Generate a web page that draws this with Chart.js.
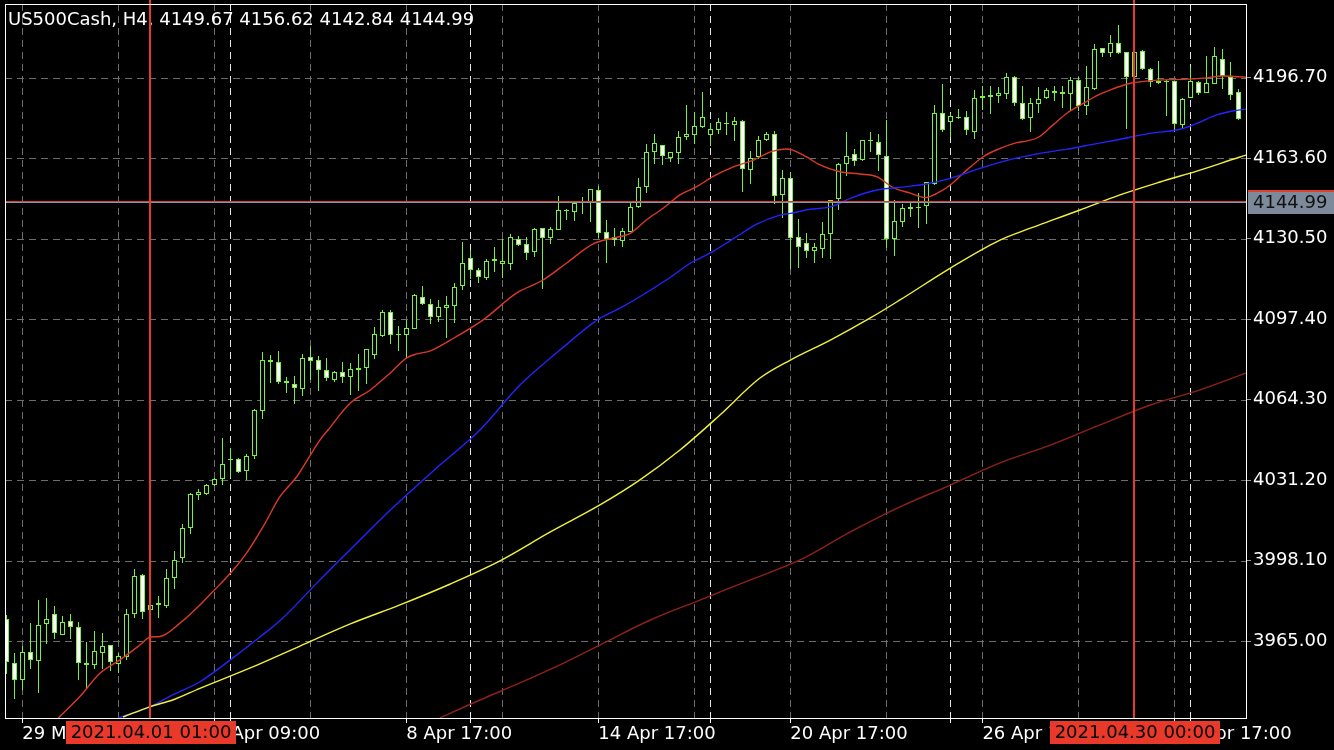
<!DOCTYPE html>
<html>
<head>
<meta charset="utf-8">
<script src="https://cdn.jsdelivr.net/npm/chart.js@4.4.0/dist/chart.umd.min.js"></script>
<style>
  html, body { margin: 0; padding: 0; background: #000; }
  #wrap { width: 1334px; height: 750px; }
</style>
</head>
<body>
<div id="wrap"><canvas id="chart" width="1334" height="750"></canvas></div>
<script>
// H4 bars
const opens = [3974.0,3955.9,3949.3,3960.4,3957.1,3972.4,3976.1,3968.1,3973.3,3970.8,3955.9,3955.5,3960.4,3963.3,3955.9,3958.8,3976.5,3992.2,3978.1,3980.4,
  3979.9,3991.3,3999.7,4012.1,4025.4,4026.1,4029.5,4032.0,4039.7,4039.9,4035.3,4041.6,4059.9,4080.4,4079.7,4071.8,4070.8,4069.0,4081.7,4080.5,
  4076.4,4072.8,4075.6,4074.2,4076.9,4077.9,4083.0,4090.9,4100.2,4091.3,4091.2,4093.9,4106.4,4103.5,4098.6,4102.3,4103.4,4111.3,4122.4,4117.6,
  4114.9,4121.9,4120.4,4120.4,4130.3,4128.2,4125.3,4134.8,4131.1,4134.6,4142.2,4142.0,4145.7,4145.6,4150.5,4133.1,4131.0,4129.8,4133.8,4143.8,
  4152.3,4166.7,4168.9,4164.2,4166.0,4172.7,4173.4,4177.0,4173.4,4175.5,4178.2,4177.5,4178.9,4159.0,4164.6,4171.3,4173.5,4148.8,4155.3,4131.1,
  4128.6,4125.7,4126.8,4133.0,4147.1,4161.8,4165.2,4163.2,4171.0,4170.4,4164.3,4130.7,4137.7,4143.2,4143.5,4144.2,4153.4,4182.1,4179.0,4180.6,
  4180.4,4174.9,4188.8,4189.3,4189.5,4190.3,4196.9,4186.2,4180.4,4186.4,4188.6,4191.0,4190.8,4190.2,4195.6,4185.5,4192.3,4208.8,4207.1,4210.8,
  4207.1,4197.5,4207.7,4200.3,4195.0,4195.5,4195.3,4177.5,4188.9,4194.8,4190.9,4194.6,4204.4,4196.9,4190.7];
const highs = [3975.8,3960.3,3963.0,3972.4,3981.9,3982.9,3979.5,3975.4,3976.2,3973.0,3964.7,3969.2,3968.4,3963.4,3960.0,3978.1,3994.7,3992.6,3981.9,3983.6,
  3994.6,4002.1,4013.2,4025.8,4027.6,4029.6,4032.2,4048.4,4044.3,4040.4,4041.8,4060.5,4083.8,4082.7,4084.3,4073.8,4074.0,4083.1,4086.4,4082.3,
  4081.4,4076.1,4079.8,4079.3,4083.1,4085.3,4094.1,4101.2,4101.2,4094.6,4097.1,4107.8,4111.1,4105.6,4105.3,4106.9,4112.4,4129.1,4125.9,4118.3,
  4122.2,4127.0,4130.4,4132.4,4131.5,4131.1,4135.0,4134.9,4135.4,4148.1,4142.7,4145.6,4147.5,4150.9,4152.2,4138.2,4134.9,4134.8,4145.7,4155.3,
  4169.4,4173.6,4169.0,4166.2,4174.8,4185.5,4182.5,4190.7,4178.0,4180.0,4182.7,4180.7,4179.3,4166.4,4172.7,4174.5,4174.6,4158.8,4158.1,4138.6,
  4132.7,4128.6,4137.5,4146.5,4161.5,4174.3,4167.3,4171.1,4174.3,4173.4,4179.3,4146.4,4144.6,4145.1,4149.2,4154.0,4185.5,4194.1,4182.1,4183.7,
  4183.0,4191.6,4193.3,4193.3,4193.0,4198.5,4197.4,4193.3,4188.5,4193.0,4192.3,4193.3,4193.1,4197.0,4196.9,4201.5,4210.4,4208.9,4214.3,4218.4,
  4207.3,4208.1,4208.1,4200.8,4203.6,4195.6,4195.4,4188.4,4201.2,4195.3,4205.6,4209.2,4208.5,4203.0,4192.1];
const lows = [3951.9,3941.5,3945.2,3953.8,3944.2,3964.4,3966.4,3967.9,3966.2,3949.5,3945.6,3954.1,3953.8,3953.2,3952.5,3957.6,3974.8,3974.4,3977.0,3975.1,
  3979.0,3987.0,3997.7,4009.4,4023.6,4025.4,4029.2,4029.5,4032.4,4034.7,4031.6,4040.2,4056.9,4071.7,4071.3,4067.3,4062.8,4066.2,4072.8,4068.4,
  4072.4,4072.1,4071.6,4066.6,4068.3,4071.2,4081.6,4090.6,4087.7,4084.7,4082.0,4093.7,4103.8,4096.0,4096.8,4090.2,4096.2,4109.9,4114.2,4112.8,
  4113.9,4117.3,4114.9,4118.2,4127.8,4122.0,4123.5,4110.1,4128.9,4134.3,4138.5,4138.2,4140.9,4137.8,4131.0,4121.0,4127.9,4127.6,4133.5,4143.5,
  4149.8,4161.5,4161.3,4162.5,4161.5,4171.4,4170.0,4176.6,4169.0,4173.8,4173.6,4171.1,4150.1,4153.5,4163.7,4170.9,4145.1,4139.5,4118.3,4118.7,
  4123.1,4121.0,4123.1,4122.7,4142.6,4156.7,4160.8,4162.9,4166.7,4158.8,4127.2,4123.8,4135.8,4139.8,4135.1,4137.1,4152.9,4174.8,4172.9,4180.3,
  4173.6,4172.0,4183.7,4182.1,4186.8,4188.2,4185.5,4179.7,4174.9,4182.7,4188.3,4187.5,4184.8,4183.4,4183.4,4181.7,4192.0,4205.8,4205.8,4207.0,
  4176.1,4196.5,4200.3,4193.4,4194.4,4181.4,4174.8,4176.4,4188.7,4189.9,4190.7,4194.5,4192.6,4187.9,4179.7];
const closes = [3956.9,3949.3,3960.4,3957.6,3971.5,3974.0,3968.7,3972.9,3971.1,3956.3,3955.6,3961.0,3962.9,3956.7,3958.8,3976.1,3991.7,3977.5,3979.8,3980.6,
  3990.9,3998.4,4011.4,4025.5,4026.3,4029.1,4031.6,4037.7,4039.9,4035.1,4041.0,4060.1,4080.5,4080.6,4072.1,4071.6,4069.5,4081.3,4080.5,4076.8,
  4073.5,4075.7,4074.2,4076.9,4077.2,4085.1,4091.2,4100.2,4091.4,4091.1,4093.7,4107.2,4103.9,4098.6,4102.3,4103.1,4110.6,4120.4,4117.9,4115.0,
  4121.3,4122.1,4121.3,4131.1,4128.3,4124.9,4134.4,4131.1,4134.4,4142.2,4142.4,4145.1,4145.9,4150.8,4133.4,4130.9,4130.3,4133.7,4143.4,4151.6,
  4166.0,4169.7,4164.8,4166.0,4172.2,4173.6,4176.7,4180.4,4175.5,4178.4,4177.9,4178.9,4159.4,4163.6,4171.0,4173.6,4148.3,4155.3,4131.3,4127.5,
  4125.7,4127.1,4132.3,4146.4,4161.2,4164.6,4163.0,4171.0,4171.2,4165.2,4130.7,4137.6,4143.0,4143.4,4143.7,4153.6,4182.1,4175.5,4181.0,4180.7,
  4175.5,4188.2,4189.0,4189.5,4190.4,4196.9,4186.8,4180.3,4186.2,4187.8,4191.6,4191.1,4190.2,4195.6,4185.3,4192.9,4208.5,4207.1,4211.0,4207.1,
  4197.5,4207.1,4200.8,4195.5,4195.2,4195.4,4178.0,4187.9,4195.3,4190.7,4194.4,4205.6,4197.8,4190.0,4180.0];

// moving averages (bar index, price)
const maRedBars = [6.5,9.2,11.7,14.2,16.7,18.0,19.2,21.7,24.2,25.8,28.0,30.0,32.1,34.2,36.3,39.2,40.2,43.0,45.5,48.0,50.0,51.3,53.0,55.5,59.6,63.8,67.1,70.0,73.3,75.9,78.0,80.0,82.1,84.2,86.3,88.3,90.8,93.4,95.6,97.4,98.2,100.0,101.7,104.2,106.7,108.8,110.8,113.0,114.9,116.7,118.0,119.6,122.1,124.2,126.3,127.6,129.0,130.8,132.6,134.3,136.5,138.0,140.5,142.5,144.6,147.1,149.6,152.1,154.0,155.0];
const maRedVals = [3933.4,3942.2,3951.8,3957.3,3963.4,3966.7,3966.9,3972.4,3979.9,3985.3,3992.9,4001.1,4012.1,4024.4,4032.6,4047.7,4051.8,4062.9,4068.3,4075.3,4081.4,4083.1,4084.4,4088.8,4097.1,4108.2,4113.5,4120.4,4128.3,4130.8,4132.7,4138.2,4143.0,4148.5,4151.9,4156.0,4159.9,4162.8,4166.3,4167.4,4167.0,4164.2,4160.8,4158.0,4157.1,4156.0,4151.6,4149.2,4147.4,4149.8,4152.6,4157.4,4164.2,4167.6,4170.0,4170.7,4172.2,4177.2,4182.2,4185.5,4189.6,4191.7,4194.4,4195.3,4195.8,4196.0,4196.5,4197.4,4197.1,4196.9];
const maBlueBars = [14.0,14.4,18.0,20.8,24.2,28.0,31.7,34.4,39.2,44.2,48.0,54.2,59.2,64.2,69.2,74.2,76.7,82.5,85.5,88.3,90.8,93.8,96.7,98.0,100.5,103.0,105.8,108.8,112.6,115.0,118.0,121.7,125.8,129.2,132.6,135.8,138.8,142.9,146.7,148.8,151.3,153.3,155.0];
const maBlueVals = [3933.4,3933.9,3938.1,3942.9,3948.3,3957.3,3966.7,3974.0,3990.2,4006.6,4018.9,4037.4,4051.8,4070.3,4084.7,4097.8,4101.9,4113.5,4120.4,4125.2,4130.3,4136.5,4140.2,4140.9,4142.6,4143.6,4147.5,4150.5,4151.9,4153.0,4155.3,4159.4,4163.3,4165.6,4167.3,4169.3,4171.1,4173.8,4175.5,4177.9,4181.4,4183.0,4183.8];
const maYellowBars = [14.6,18.0,20.8,24.2,30.5,36.7,43.0,49.2,55.5,61.7,68.0,74.2,79.2,84.2,89.2,94.2,98.0,103.0,108.0,111.7,118.0,124.2,128.0,130.8,134.2,139.2,144.2,149.2,154.2,155.0];
const maYellowVals = [3933.8,3938.1,3940.8,3945.6,3954.0,3963.0,3972.1,3979.9,3988.5,3998.0,4009.9,4021.0,4031.3,4043.6,4058.0,4073.2,4080.6,4088.8,4097.9,4105.3,4118.4,4129.9,4134.8,4138.2,4142.3,4148.5,4153.8,4158.7,4164.1,4164.9];
const maBrownBars = [54.2,59.2,64.2,69.2,74.2,80.5,86.7,93.0,99.2,105.5,111.7,118.0,124.2,130.5,136.7,143.0,149.2,155.0];
const maBrownVals = [3933.4,3940.8,3947.8,3955.2,3963.4,3973.7,3981.9,3990.2,3998.4,4009.9,4020.2,4029.2,4038.3,4045.6,4053.9,4062.1,4068.3,4075.3];

const yTicks = [3965.00, 3998.10, 4031.20, 4064.30, 4097.40, 4130.50, 4163.60, 4196.70];
const xLabelBars = [2, 26, 50, 74, 98, 122, 146];
const xLabels = ['29 Mar 09:00', '2 Apr 09:00', '8 Apr 17:00', '14 Apr 17:00', '20 Apr 17:00', '26 Apr 17:00', '30 Apr 17:00'];
const weekBars = [28, 58, 88, 118, 148];
const markerBars = [18, 141];
const markerLabels = ['2021.04.01 01:00', '2021.04.30 00:00'];
const bidPrice = 4145.6;
const bidLabel = '4144.99';
const title = 'US500Cash, H4, 4149.67 4156.62 4142.84 4144.99';

const GREEN = '#78f23c';
const GRID = '#6e6e6e';
const MARK_RED = '#e8392b';
const FONT = 'DejaVu Sans';

Chart.defaults.font.family = FONT;

function pts(bars, vals) {
  return bars.map((b, i) => ({ x: b, y: vals[i] }));
}

// grid + candles under the moving averages
const candlePlugin = {
  id: 'candles',
  beforeDatasetsDraw(chart) {
    const { ctx, chartArea, scales: { x, y } } = chart;
    const { left, right, top, bottom } = chartArea;
    ctx.save();
    ctx.beginPath();
    ctx.rect(left, top, right - left, bottom - top);
    ctx.clip();

    ctx.lineWidth = 1;
    ctx.setLineDash([7, 5]);
    ctx.strokeStyle = GRID;
    yTicks.forEach(v => {
      const py = Math.round(y.getPixelForValue(v)) + 0.5;
      ctx.beginPath(); ctx.moveTo(left, py); ctx.lineTo(right, py); ctx.stroke();
    });
    for (let b = 2; b < opens.length; b += 12) {
      const px = Math.round(x.getPixelForValue(b)) + 0.5;
      ctx.beginPath(); ctx.moveTo(px, top); ctx.lineTo(px, bottom); ctx.stroke();
    }
    ctx.strokeStyle = '#e6e6e6';
    weekBars.forEach(b => {
      const px = Math.round(x.getPixelForValue(b)) + 0.5;
      ctx.beginPath(); ctx.moveTo(px, top); ctx.lineTo(px, bottom); ctx.stroke();
    });
    ctx.setLineDash([]);

    // title sits under the marker lines
    ctx.fillStyle = '#fff';
    ctx.font = '18px ' + FONT;
    ctx.textBaseline = 'alphabetic';
    ctx.fillText(title, 8, 25);

    ctx.strokeStyle = GREEN;
    for (let i = 0; i < opens.length; i++) {
      const c = Math.round(x.getPixelForValue(i));
      const cx = c + 0.5;
      const yh = Math.round(y.getPixelForValue(highs[i]));
      const yl = Math.round(y.getPixelForValue(lows[i]));
      const yo = y.getPixelForValue(opens[i]);
      const yc = y.getPixelForValue(closes[i]);
      ctx.beginPath(); ctx.moveTo(cx, yh); ctx.lineTo(cx, yl + 1); ctx.stroke();
      const bt = Math.round(Math.min(yo, yc));
      const bb = Math.round(Math.max(yo, yc));
      if (bb - bt < 1) {
        ctx.fillStyle = GREEN;
        ctx.fillRect(c - 2, bt, 5, 1);
      } else {
        ctx.fillStyle = closes[i] >= opens[i] ? '#000' : '#fff';
        ctx.fillRect(c - 2, bt, 5, bb - bt + 1);
        ctx.strokeRect(c - 1.5, bt + 0.5, 4, bb - bt);
      }
    }
    ctx.restore();
  },
  afterDatasetsDraw(chart) {
    const { ctx, chartArea, scales: { x, y } } = chart;
    const { left, right, top, bottom } = chartArea;
    ctx.save();
    // bid / ask lines
    const py = Math.round(y.getPixelForValue(bidPrice));
    ctx.fillStyle = '#d8402f';
    ctx.fillRect(left, py - 1, right - left, 1);
    ctx.fillStyle = '#8896a6';
    ctx.fillRect(left, py, right - left, 1);

    // vertical marker lines
    ctx.fillStyle = MARK_RED;
    markerBars.forEach(b => {
      const px = Math.round(x.getPixelForValue(b));
      ctx.fillRect(px - 1, 0, 2, bottom);
    });

    // frame
    ctx.fillStyle = '#fff';
    ctx.fillRect(left, top, 1, bottom - top);
    ctx.fillRect(left, top, right - left, 1);
    ctx.fillRect(right, top, 1, bottom - top + 1);
    ctx.fillRect(left, bottom, right - left, 1);

    // extra ticks on the time axis at week starts
    weekBars.forEach(b => {
      const px = Math.round(x.getPixelForValue(b));
      ctx.fillRect(px, bottom, 1, 5);
    });

    // marker date boxes
    ctx.font = '18px ' + FONT;
    ctx.textAlign = 'center';
    ctx.textBaseline = 'middle';
    markerBars.forEach((b, i) => {
      const px = Math.round(x.getPixelForValue(b));
      ctx.fillStyle = MARK_RED;
      ctx.fillRect(px - 84, bottom + 3, 170, 23);
      ctx.fillStyle = '#000';
      ctx.fillText(markerLabels[i], px + 1, bottom + 15);
    });

    // price label box
    ctx.fillStyle = '#e0402f';
    ctx.fillRect(right + 2, py - 12, chart.width - right - 2, 2);
    ctx.fillStyle = '#7d8a9b';
    ctx.fillRect(right + 2, py - 10, chart.width - right - 2, 22);
    ctx.fillStyle = '#111';
    ctx.textAlign = 'left';
    ctx.fillText(bidLabel, right + 7, py + 1);
    ctx.restore();
  }
};

const lineDs = (label, data, color) => ({
  label, data, borderColor: color, borderWidth: 1.4,
  pointRadius: 0, cubicInterpolationMode: 'monotone', fill: false
});

new Chart(document.getElementById('chart'), {
  type: 'line',
  data: {
    datasets: [
      lineDs('MA 200', pts(maBrownBars, maBrownVals), '#8e2218'),
      lineDs('MA 100', pts(maYellowBars, maYellowVals), '#f2f23c'),
      lineDs('MA 50', pts(maBlueBars, maBlueVals), '#2424ff'),
      lineDs('MA 20', pts(maRedBars, maRedVals), '#dc3a26')
    ]
  },
  options: {
    responsive: false,
    animation: false,
    layout: { padding: { left: 5, top: 4, right: 0, bottom: 0 } },
    plugins: { legend: { display: false }, tooltip: { enabled: false } },
    scales: {
      x: {
        type: 'linear',
        min: -0.1625,
        max: 154.95,
        afterBuildTicks: axis => { axis.ticks = xLabelBars.map(v => ({ value: v })); },
        afterFit: axis => { axis.height = 32; axis.paddingLeft = 0; axis.paddingRight = 0; },
        ticks: {
          autoSkip: false, maxRotation: 0, minRotation: 0, align: 'start',
          color: '#fff', font: { size: 18 }, padding: 1,
          callback: v => xLabels[xLabelBars.indexOf(v)]
        },
        grid: { drawOnChartArea: false, drawTicks: true, tickLength: 5, tickColor: '#fff', color: '#fff' },
        border: { display: false }
      },
      y: {
        position: 'right',
        min: 3933.4,
        max: 4227.0,
        afterBuildTicks: axis => { axis.ticks = yTicks.map(v => ({ value: v })); },
        afterFit: axis => { axis.width = 88; axis.paddingTop = 0; axis.paddingBottom = 0; },
        ticks: { color: '#fff', font: { size: 18 }, padding: 2, callback: v => v.toFixed(2) },
        grid: { drawOnChartArea: false, drawTicks: true, tickLength: 5, tickColor: '#9a9a9a', color: '#9a9a9a' },
        border: { display: false }
      }
    }
  },
  plugins: [candlePlugin]
});
</script>
</body>
</html>
